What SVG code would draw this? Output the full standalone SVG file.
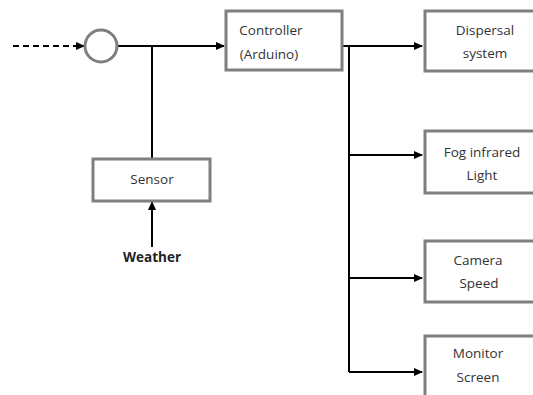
<svg xmlns="http://www.w3.org/2000/svg" width="533" height="395" viewBox="0 0 533 395">
<defs>
<marker id="ah" markerWidth="9" markerHeight="9" refX="8" refY="4.5" orient="auto" markerUnits="userSpaceOnUse">
<path d="M0,0.5 L9,4.5 L0,8.5 Z" fill="#000"/>
</marker>
<style>
.box{fill:#fff;stroke:#7f7f7f;stroke-width:3}
.t{font-family:"Open Sans","Liberation Sans",sans-serif;font-size:13.5px;fill:#333;text-anchor:middle}
.ln{stroke:#000;stroke-width:2;fill:none}
</style>
</defs>
<rect width="533" height="395" fill="#fff"/>
<g id="connectors">
<line class="ln" x1="13" y1="46" x2="84" y2="46" stroke-dasharray="6,4" marker-end="url(#ah)"/>
<line class="ln" x1="118" y1="46" x2="224" y2="46" marker-end="url(#ah)"/>
<line class="ln" x1="152" y1="46" x2="152" y2="158"/>
<line class="ln" x1="152" y1="247" x2="152" y2="202" marker-end="url(#ah)"/>
<line class="ln" x1="342" y1="46" x2="349" y2="46"/>
<line class="ln" x1="349" y1="45" x2="349" y2="372"/>
<line class="ln" x1="349" y1="46" x2="422" y2="46" marker-end="url(#ah)"/>
<line class="ln" x1="349" y1="155" x2="422" y2="155" marker-end="url(#ah)"/>
<line class="ln" x1="349" y1="278" x2="422" y2="278" marker-end="url(#ah)"/>
<line class="ln" x1="349" y1="372" x2="422" y2="372" marker-end="url(#ah)"/>
</g>
<g id="junction">
<circle cx="101" cy="46" r="16" fill="#fff" stroke="#7f7f7f" stroke-width="3"/>
</g>
<g id="controller">
<rect class="box" x="226" y="11" width="116" height="59"/>
<text class="t" x="271" y="35">Controller</text>
<text class="t" x="269" y="59">(Arduino)</text>
</g>
<g id="sensor">
<rect class="box" x="93" y="159" width="117" height="42"/>
<text class="t" x="152" y="184">Sensor</text>
</g>
<g id="weather">
<text x="152" y="262" font-family="'Open Sans','Liberation Sans',sans-serif" font-size="13.5px" font-weight="bold" fill="#222" text-anchor="middle">Weather</text>
</g>
<g id="dispersal">
<rect class="box" x="425" y="11" width="112" height="60"/>
<text class="t" x="485" y="35">Dispersal</text>
<text class="t" x="485" y="58">system</text>
</g>
<g id="fog">
<rect class="box" x="425" y="131" width="112" height="62"/>
<text class="t" x="482" y="157">Fog infrared</text>
<text class="t" x="482" y="180">Light</text>
</g>
<g id="camera">
<rect class="box" x="425" y="241" width="112" height="61"/>
<text class="t" x="478" y="265">Camera</text>
<text class="t" x="479" y="288">Speed</text>
</g>
<g id="monitor">
<rect class="box" x="425" y="336" width="112" height="65"/>
<text class="t" x="478" y="358">Monitor</text>
<text class="t" x="478" y="382">Screen</text>
</g>
</svg>
